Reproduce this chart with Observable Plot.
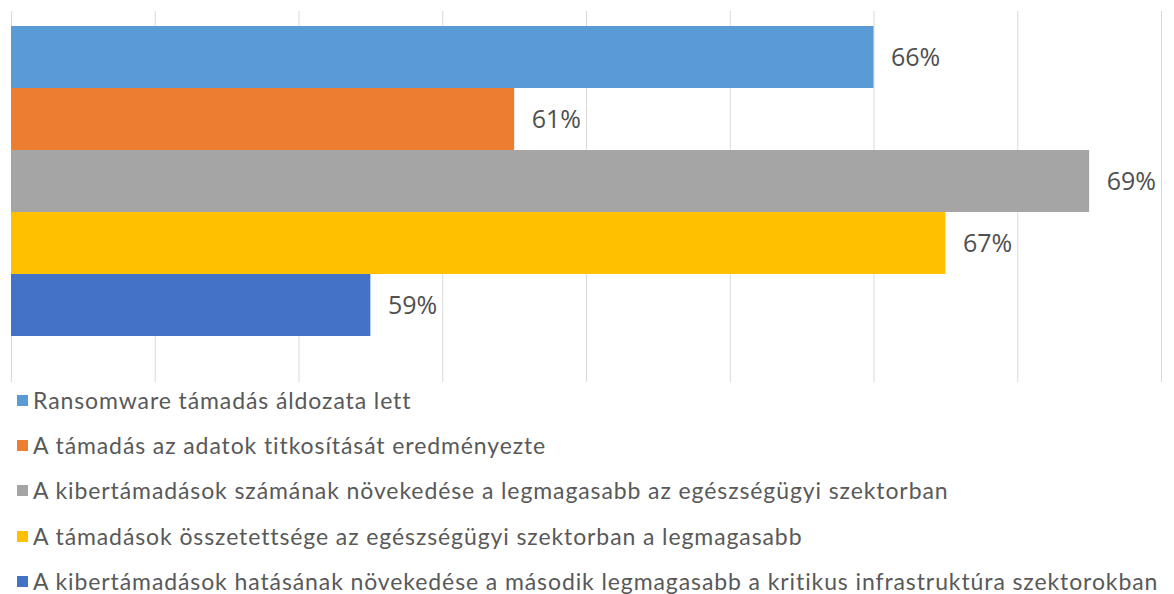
<!DOCTYPE html>
<html>
<head>
<meta charset="utf-8">
<script src="https://cdn.jsdelivr.net/npm/d3@7"></script>
<script src="https://cdn.jsdelivr.net/npm/@observablehq/plot@0.6"></script>
<style>
  html, body { margin: 0; padding: 0; background: #fff; }
  #legend { margin-top: -4px; font-family: Lato, "Open Sans", sans-serif; font-size: 23px; letter-spacing: 0.9px; color: #595959; line-height: 23px; }
  .row { height: 45.2px; display: flex; align-items: center; white-space: nowrap; }
  .sw { width: 11px; height: 11px; margin-left: 17px; margin-right: 5px; flex: none; }
</style>
</head>
<body>
<div id="chart"></div>
<div id="legend"></div>
<script>
const labels = [
  "Ransomware támadás áldozata lett",
  "A támadás az adatok titkosítását eredményezte",
  "A kibertámadások számának növekedése a legmagasabb az egészségügyi szektorban",
  "A támadások összetettsége az egészségügyi szektorban a legmagasabb",
  "A kibertámadások hatásának növekedése a második legmagasabb a kritikus infrastruktúra szektorokban"
];
const values = [66, 61, 69, 67, 59];
const colors = ["#5B9BD5", "#ED7D31", "#A5A5A5", "#FFC000", "#4472C4"];
const xTicks = [54, 56, 58, 60, 62, 64, 66, 68, 70];

const data = labels.map((label, i) => ({label, value: values[i], color: colors[i]}));

const chart = Plot.plot({
  width: 1174,
  height: 382,
  marginLeft: 11,
  marginRight: 13,
  marginTop: 11,
  marginBottom: 0,
  style: {fontFamily: "'Open Sans', sans-serif", background: "#fff"},
  x: {domain: [xTicks[0], xTicks[xTicks.length - 1]], axis: null},
  y: {domain: labels, range: [25, 337], padding: 0, axis: null},
  marks: [
    Plot.gridX(xTicks, {stroke: "#d9d9d9", strokeOpacity: 1, strokeWidth: 1}),
    Plot.barX(data, {x1: xTicks[0], x2: "value", y: "label", fill: "color", clip: true}),
    Plot.text(data, {x: "value", y: "label", text: d => d.value + "%", textAnchor: "start", dx: 17, fontSize: 25, fill: "#505050"})
  ]
});
document.getElementById("chart").appendChild(chart);

const legend = document.getElementById("legend");
data.forEach(d => {
  const row = document.createElement("div");
  row.className = "row";
  const sw = document.createElement("span");
  sw.className = "sw";
  sw.style.background = d.color;
  const t = document.createElement("span");
  t.textContent = d.label;
  row.appendChild(sw);
  row.appendChild(t);
  legend.appendChild(row);
});
</script>
</body>
</html>
